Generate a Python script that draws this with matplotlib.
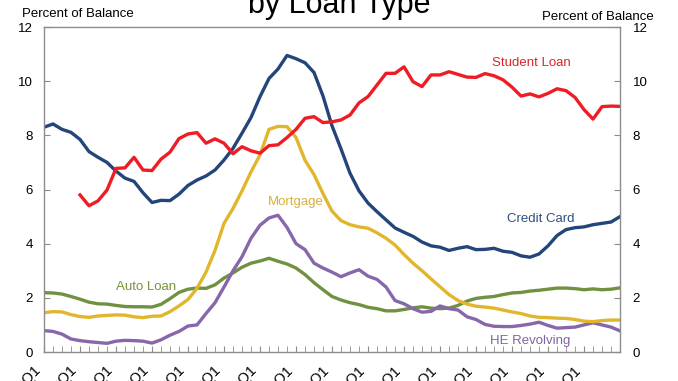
import matplotlib
matplotlib.use('Agg')
import matplotlib.pyplot as plt
import numpy as np

plt.rcParams['font.family'] = ['Liberation Sans', 'DejaVu Sans']

# quarterly, 2003:Q1 .. 2019:Q1
quarters = np.arange(65)
xlabels = ['%02d:Q1' % y for y in range(3, 19)]

credit_card = [8.30, 8.42, 8.22, 8.11, 7.85, 7.40, 7.19, 7.00, 6.68, 6.42,
               6.30, 5.88, 5.52, 5.60, 5.59, 5.83, 6.15, 6.35, 6.50, 6.72,
               7.09, 7.52, 8.08, 8.66, 9.43, 10.10, 10.45, 10.95, 10.83, 10.68,
               10.32, 9.45, 8.35, 7.50, 6.60, 5.95, 5.50, 5.18, 4.88, 4.58,
               4.42, 4.27, 4.06, 3.92, 3.87, 3.75, 3.83, 3.89, 3.78, 3.79,
               3.83, 3.72, 3.68, 3.55, 3.50, 3.62, 3.92, 4.30, 4.52, 4.59,
               4.62, 4.70, 4.75, 4.80, 5.00]
# student loan starts 2004:Q1
student_loan = [5.80, 5.40, 5.58, 5.98, 6.78, 6.80, 7.19, 6.72, 6.70, 7.12,
                7.38, 7.88, 8.05, 8.10, 7.71, 7.87, 7.71, 7.32, 7.58, 7.43,
                7.34, 7.62, 7.65, 7.92, 8.22, 8.63, 8.69, 8.47, 8.50, 8.57,
                8.75, 9.20, 9.43, 9.86, 10.29, 10.29, 10.53, 9.98, 9.80, 10.23,
                10.23, 10.35, 10.25, 10.15, 10.14, 10.28, 10.20, 10.05, 9.78, 9.45,
                9.53, 9.42, 9.55, 9.72, 9.65, 9.40, 8.95, 8.60, 9.06, 9.08, 9.07]
mortgage = [1.45, 1.49, 1.48, 1.38, 1.31, 1.28, 1.33, 1.35, 1.37, 1.36,
            1.30, 1.27, 1.32, 1.33, 1.49, 1.70, 1.94, 2.35, 2.95, 3.75,
            4.75, 5.30, 5.95, 6.65, 7.28, 8.22, 8.33, 8.32, 7.92, 7.08,
            6.55, 5.85, 5.20, 4.85, 4.70, 4.62, 4.57, 4.40, 4.20, 3.95,
            3.60, 3.28, 3.00, 2.70, 2.41, 2.12, 1.90, 1.77, 1.69, 1.66,
            1.62, 1.55, 1.48, 1.42, 1.33, 1.28, 1.27, 1.25, 1.24, 1.20,
            1.14, 1.12, 1.16, 1.18, 1.18]
auto_loan = [2.19, 2.18, 2.14, 2.05, 1.95, 1.84, 1.78, 1.77, 1.72, 1.68,
             1.67, 1.67, 1.66, 1.76, 1.97, 2.20, 2.32, 2.36, 2.35, 2.48,
             2.73, 2.92, 3.13, 3.28, 3.36, 3.46, 3.35, 3.25, 3.10, 2.86,
             2.56, 2.30, 2.05, 1.92, 1.82, 1.75, 1.65, 1.60, 1.52, 1.52,
             1.57, 1.63, 1.67, 1.62, 1.60, 1.62, 1.72, 1.88, 1.98, 2.02,
             2.05, 2.12, 2.18, 2.20, 2.25, 2.28, 2.32, 2.36, 2.36, 2.34,
             2.30, 2.33, 2.30, 2.32, 2.37]
he_revolving = [0.79, 0.76, 0.66, 0.48, 0.42, 0.38, 0.35, 0.32, 0.40, 0.43,
                0.42, 0.40, 0.33, 0.45, 0.62, 0.76, 0.96, 1.00, 1.42, 1.82,
                2.40, 3.00, 3.52, 4.20, 4.68, 4.95, 5.05, 4.60, 4.00, 3.78,
                3.28, 3.10, 2.95, 2.78, 2.92, 3.04, 2.80, 2.68, 2.40, 1.90,
                1.78, 1.60, 1.47, 1.50, 1.70, 1.60, 1.55, 1.30, 1.20, 1.02,
                0.95, 0.94, 0.94, 0.98, 1.03, 1.10, 0.98, 0.88, 0.90, 0.92,
                1.00, 1.08, 1.00, 0.92, 0.78]

c_cc, c_sl, c_mo, c_au, c_he = '#23457a', '#ee1c25', '#e2b62c', '#6f9140', '#8767ab'

fig = plt.figure(figsize=(6.78, 3.81), dpi=100)
ax = fig.add_axes([0.0649, 0.0761, 0.8496, 0.853])
lw = 2.4
ax.plot(quarters, auto_loan, color=c_au, lw=lw)
ax.plot(quarters, he_revolving, color=c_he, lw=lw)
ax.plot(quarters, mortgage, color=c_mo, lw=lw)
ax.plot(quarters, credit_card, color=c_cc, lw=lw)
ax.plot(quarters[4:], student_loan, color=c_sl, lw=lw)

ax.set_xlim(0, 64)
ax.set_ylim(0, 12)
for s in ax.spines.values():
    s.set_color('#8c8c8c')
    s.set_linewidth(1.0)

ax.set_yticks(range(0, 13, 2))
ax.set_xticks(quarters[::4][:16])
ax.set_xticklabels(xlabels, rotation=45, ha='right', fontsize=10.5)
ax.set_xticks(quarters, minor=True)
ax.tick_params(axis='both', which='both', direction='in', color='#8c8c8c', length=4)
ax.tick_params(axis='y', labelsize=9.5, pad=8)
ax.tick_params(axis='x', pad=8)

ax2 = ax.twinx()
ax2.set_ylim(0, 12)
ax2.set_yticks(range(0, 13, 2))
ax2.tick_params(axis='y', direction='in', color='#8c8c8c', length=4, labelsize=9.5, pad=9)
for s in ax2.spines.values():
    s.set_visible(False)

# series labels
ax.text(54.1, 10.67, 'Student Loan', color='#d9262b', fontsize=9.5, ha='center', va='center')
ax.text(55.2, 4.91, 'Credit Card', color='#2f4f80', fontsize=9.5, ha='center', va='center')
ax.text(28.0, 5.54, 'Mortgage', color='#d6b13b', fontsize=9.5, ha='center', va='center')
ax.text(11.3, 2.4, 'Auto Loan', color='#77933c', fontsize=9.5, ha='center', va='center')
ax.text(54.0, 0.41, 'HE Revolving', color='#8064a2', fontsize=9.5, ha='center', va='center')

fig.text(0.115, 0.963, 'Percent of Balance', fontsize=9.5, ha='center', va='center')
fig.text(0.882, 0.955, 'Percent of Balance', fontsize=9.5, ha='center', va='center')
fig.text(0.5, 0.965, 'by Loan Type', fontsize=22, ha='center', va='baseline')

fig.savefig('out.png', dpi=100)
